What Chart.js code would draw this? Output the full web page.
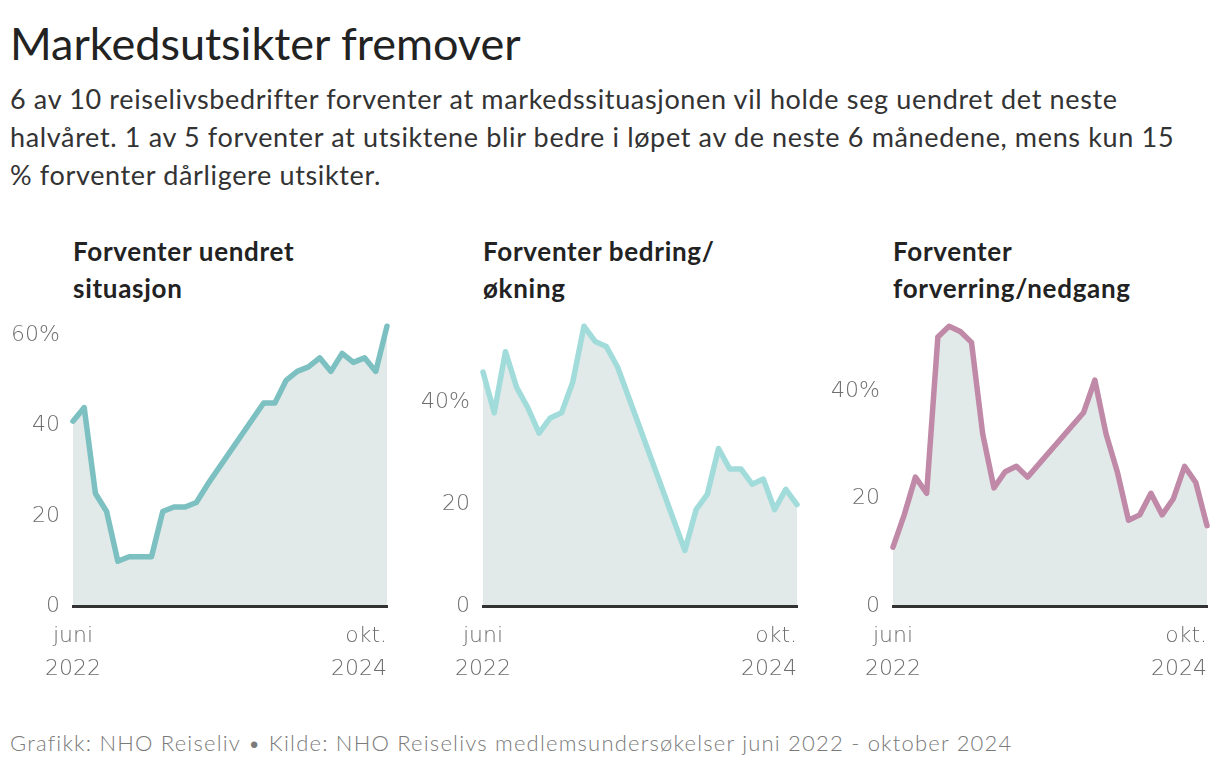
<!DOCTYPE html>
<html>
<head>
<meta charset="utf-8">
<script src="https://cdn.jsdelivr.net/npm/chart.js@4"></script>
<style>
html,body{margin:0;padding:0;background:#fff;width:1220px;height:770px;overflow:hidden;font-family:Lato,"Noto Sans",sans-serif;}
.t{position:absolute;left:10px;top:16px;font-size:45px;line-height:54px;color:#222;white-space:nowrap;}
.s{position:absolute;left:10px;top:80px;font-size:27px;line-height:38px;letter-spacing:0.65px;color:#333;white-space:nowrap;}
.pt{position:absolute;top:233px;font-size:26px;line-height:37px;font-weight:700;letter-spacing:0.7px;color:#222;white-space:nowrap;}
.f{position:absolute;left:10px;top:730px;font-size:22px;line-height:26px;letter-spacing:1.2px;color:#7a7a7a;font-weight:300;white-space:nowrap;}
.c{position:absolute;top:300px;width:400px;height:400px;}
</style>
</head>
<body>
<div class="t">Markedsutsikter fremover</div>
<div class="s">6 av 10 reiselivsbedrifter forventer at markedssituasjonen vil holde seg uendret det neste<br>halvåret. 1 av 5 forventer at utsiktene blir bedre i løpet av de neste 6 månedene, mens kun 15<br>% forventer dårligere utsikter.</div>
<div class="pt" style="left:73px">Forventer uendret<br>situasjon</div>
<div class="pt" style="left:483px">Forventer bedring/<br>økning</div>
<div class="pt" style="left:893px">Forventer<br>forverring/nedgang</div>
<div class="c" style="left:0px"><canvas id="c1" width="400" height="400"></canvas></div>
<div class="c" style="left:410px"><canvas id="c2" width="400" height="400"></canvas></div>
<div class="c" style="left:820px"><canvas id="c3" width="400" height="400"></canvas></div>
<div class="f">Grafikk: NHO Reiseliv • Kilde: NHO Reiselivs medlemsundersøkelser juni 2022 - oktober 2024</div>
<script>
const months = ['juni 2022','juli 2022','aug. 2022','sep. 2022','okt. 2022','nov. 2022','des. 2022',
  'jan. 2023','feb. 2023','mars 2023','april 2023','mai 2023','juni 2023','juli 2023','aug. 2023','sep. 2023','okt. 2023','nov. 2023','des. 2023',
  'jan. 2024','feb. 2024','mars 2024','april 2024','mai 2024','juni 2024','juli 2024','aug. 2024','sep. 2024','okt. 2024'];
const uendret    = [41,44,25,21,10,11,11,11,21,22,22,23,27,null,null,null,null,45,45,50,52,53,55,52,56,54,55,52,62];
const bedring    = [46,38,50,43,39,34,37,38,44,55,52,51,47,null,null,null,null,null,11,19,22,31,27,27,24,25,19,23,20];
const forverring = [11,17,24,21,50,52,51,49,32,22,25,26,24,null,null,null,null,36,42,32,25,16,17,21,17,20,26,23,15];
const yTickValues = [0,20,40,60];

Chart.defaults.font.family = 'Lato, "Noto Sans", sans-serif';
const tickFont = {family:'"DejaVu Sans", Lato, sans-serif', size:22, weight:200, lineHeight:1.5};
const tickColor = '#6e6e6e';

function makeChart(id, values, color){
  const maxVal = Math.max(...values.filter(v => v !== null));
  return new Chart(document.getElementById(id), {
    type:'line',
    data:{ labels: months, datasets:[{
      data: values, borderColor: color, borderWidth: 5.5, backgroundColor:'#e1eae9',
      fill:'origin', pointRadius:0, tension:0, spanGaps:true,
      borderJoinStyle:'round', borderCapStyle:'round', clip:false
    }]},
    options:{
      responsive:false, animation:false, events:[],
      layout:{padding:{top:26, right:13, left:0, bottom:0}},
      plugins:{legend:{display:false}, tooltip:{enabled:false}, title:{display:false}},
      scales:{
        x:{
          type:'category', offset:false,
          grid:{display:false, drawTicks:false},
          border:{display:true, color:'#333', width:3, z:1},
          afterFit: s => { s.height = 93.5; },
          ticks:{autoSkip:false, maxRotation:0, minRotation:0, padding:13, align:'center', color:tickColor, font:tickFont,
            callback: function(v, i){ return i === 0 ? months[i].split(' ') : ''; }}
        },
        x2:{
          type:'category', axis:'x', position:{y:0}, offset:false, labels: months,
          grid:{display:false, drawTicks:false}, border:{display:false},
          ticks:{autoSkip:false, maxRotation:0, minRotation:0, padding:13, align:'end', color:tickColor, font:tickFont,
            callback: function(v, i){ return i === months.length - 1 ? months[i].split(' ') : ''; }}
        },
        y:{
          min:0, max:maxVal,
          grid:{display:false, drawTicks:false}, border:{display:false},
          afterFit: s => { s.width = 73; },
          afterBuildTicks: s => { s.ticks = yTickValues.filter(v => v <= s.max).map(v => ({value:v})); },
          ticks:{padding:13, color:tickColor, font:{family:'"DejaVu Sans", Lato, sans-serif', size:22, weight:200},
            callback: (v, i, t) => i === t.length - 1 ? v + '%' : String(v)}
        }
      }
    }
  });
}
makeChart('c1', uendret, '#7cc0c1');
makeChart('c2', bedring, '#a1dcdb');
makeChart('c3', forverring, '#c089a7');
</script>
</body>
</html>
